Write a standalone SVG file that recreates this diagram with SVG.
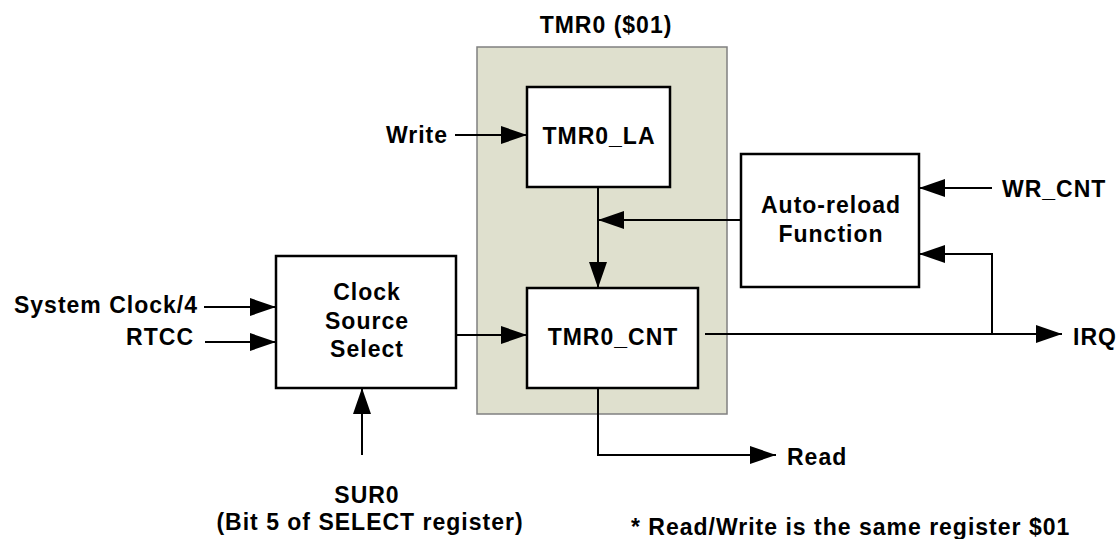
<svg xmlns="http://www.w3.org/2000/svg" width="1117" height="539" viewBox="0 0 1117 539">
<defs>
<style>
text{font-family:"Liberation Sans",Arial,sans-serif;font-weight:bold;font-size:23px;letter-spacing:1px;fill:#000}
.box{fill:#fff;stroke:#000;stroke-width:2.5}
.cont{fill:#dfe0ce;stroke:#808080;stroke-width:1.5}
.arr{fill:none;stroke:#000;stroke-width:2;marker-end:url(#ah)}
.c{text-anchor:middle}
.e{text-anchor:end}
</style>
<marker id="ah" markerUnits="userSpaceOnUse" markerWidth="27" markerHeight="18" refX="26" refY="9" orient="auto" viewBox="0 0 27 18">
<path d="M0,0 L26,9 L0,18 Z" fill="#000"/>
</marker>
</defs>
<g id="tmr0">
<rect class="cont" x="477" y="47" width="250" height="367"/>
<text class="c" x="606" y="33">TMR0 ($01)</text>
</g>
<g id="tmr0_la">
<rect class="box" x="527" y="87" width="143" height="100"/>
<text class="c" x="599" y="144">TMR0_LA</text>
</g>
<g id="tmr0_cnt">
<rect class="box" x="527" y="288" width="171" height="100"/>
<text class="c" x="613" y="345">TMR0_CNT</text>
</g>
<g id="autoreload">
<rect class="box" x="741" y="154" width="178" height="133"/>
<text class="c" x="831" y="213">Auto-reload</text>
<text class="c" x="831" y="242">Function</text>
</g>
<g id="clocksel">
<rect class="box" x="276" y="256" width="180" height="132"/>
<text class="c" x="367" y="300">Clock</text>
<text class="c" x="367" y="328.5">Source</text>
<text class="c" x="367" y="357">Select</text>
</g>
<g id="labels">
<text class="e" x="448" y="143">Write</text>
<text x="1002" y="197">WR_CNT</text>
<text class="e" x="198" y="313">System Clock/4</text>
<text class="e" x="194" y="345">RTCC</text>
<text x="1073" y="345">IRQ</text>
<text x="787" y="465">Read</text>
<text class="c" x="367" y="503">SUR0</text>
<text class="c" x="370" y="530">(Bit 5 of SELECT register)</text>
<text x="631" y="535">* Read/Write is the same register $01</text>
</g>
<g id="connectors">
<path class="arr" d="M455,135 H527"/>
<path class="arr" d="M598,187 V288"/>
<path class="arr" d="M741,220 H598"/>
<path class="arr" d="M992,188 H919"/>
<path class="arr" d="M992,334 V254 H919"/>
<path class="arr" d="M705,334 H1062"/>
<path class="arr" d="M598,388 V455 H776"/>
<path class="arr" d="M204,307 H276"/>
<path class="arr" d="M205,342 H276"/>
<path class="arr" d="M456,335 H527"/>
<path class="arr" d="M362,455 V388"/>
</g>
</svg>
